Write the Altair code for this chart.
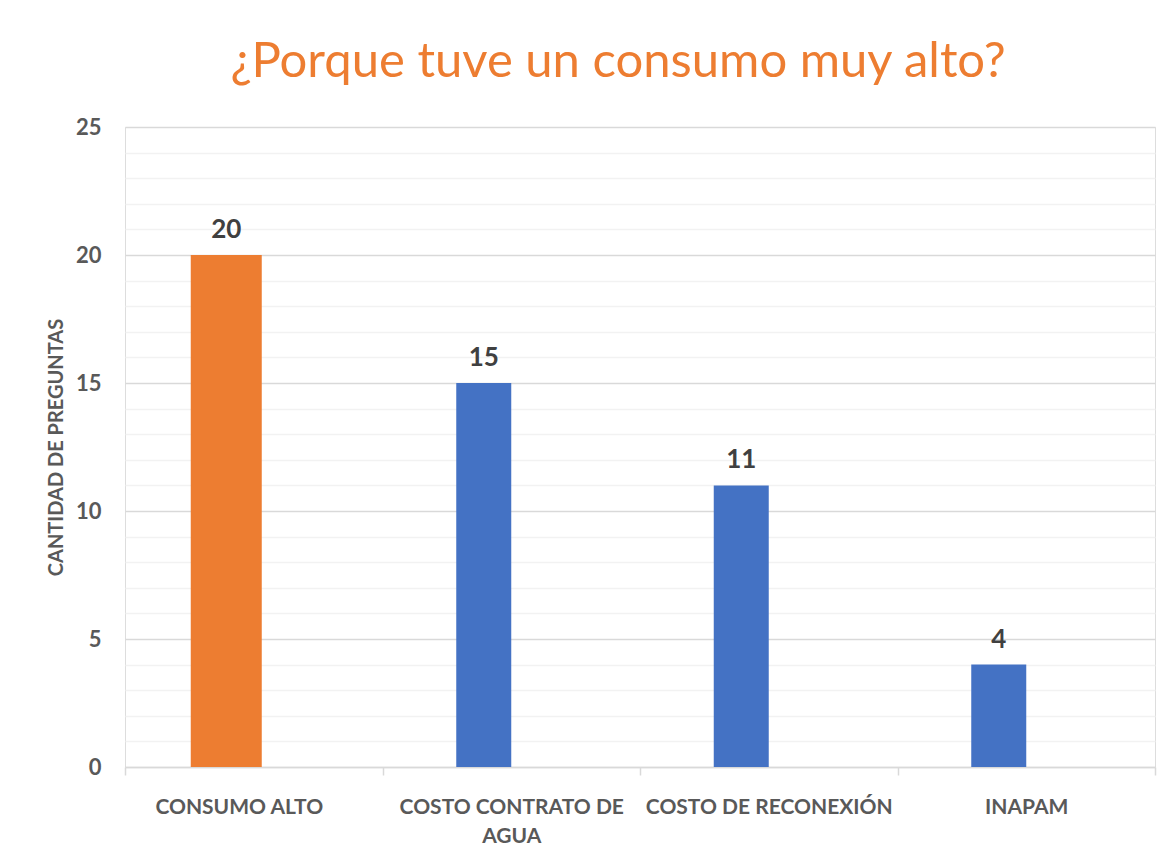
import altair as alt
import pandas as pd

categories = ["CONSUMO ALTO", "COSTO CONTRATO DE AGUA", "COSTO DE RECONEXIÓN", "INAPAM"]
values = [20, 15, 11, 4]
highlight = ["CONSUMO ALTO"]
y_ticks = list(range(0, 26))

df = pd.DataFrame({"categoria": categories, "cantidad": values})

FONT = "Lato"

x = alt.X(
    "categoria:N",
    sort=categories,
    title=None,
    scale=alt.Scale(paddingInner=0, paddingOuter=0),
    axis=alt.Axis(
        labelAngle=0,
        labelFont=FONT,
        labelFontSize=21,
        labelFontWeight="bold",
        labelColor="#595959",
        labelExpr="datum.label == 'COSTO CONTRATO DE AGUA' ? ['COSTO CONTRATO DE', 'AGUA'] : datum.label",
        labelLineHeight=29,
        labelPadding=21,
        labelLimit=400,
        labelOffset={"condition": {"test": "datum.value === 'CONSUMO ALTO'", "value": -15}, "value": 0},
        domainColor="#d9d9d9",
        domainWidth=1.5,
        tickColor="#d9d9d9",
        tickWidth=1.5,
        tickSize=8,
        tickBand="extent",
        grid=False,
    ),
)

y = alt.Y(
    "cantidad:Q",
    scale=alt.Scale(domain=[0, 25], nice=False),
    title="CANTIDAD DE PREGUNTAS",
    axis=alt.Axis(
        values=y_ticks,
        labelExpr="datum.value % 5 === 0 ? datum.label : ''",
        labelFont=FONT,
        labelFontSize=22,
        labelFontWeight="bold",
        labelColor="#595959",
        labelPadding=24,
        ticks=False,
        domain=False,
        gridColor={"condition": {"test": "datum.value % 5 === 0", "value": "#d9d9d9"}, "value": "#f2f2f2"},
        gridWidth=1.5,
        titleFont=FONT,
        titleFontSize=20,
        titleFontWeight="bold",
        titleColor="#595959",
        titlePadding=9,
    ),
)

base = alt.Chart(df).encode(x=x, y=y)

bars = base.mark_bar(size=55, xOffset=-27.5, color="#4472C4")
orange = base.transform_filter(
    alt.FieldOneOfPredicate(field="categoria", oneOf=highlight)
).mark_bar(size=71, xOffset=-27.5, color="#ED7D31")
labels = base.mark_text(
    xOffset=-27.5, dy=-17, baseline="alphabetic", font=FONT, fontSize=26,
    fontWeight="bold", color="#404040"
).encode(text="cantidad:Q")

chart = (
    alt.layer(bars, orange, labels)
    .properties(
        width=1030,
        height=640,
        title=alt.Title(
            "¿Porque tuve un consumo muy alto?",
            font=FONT,
            fontSize=49,
            fontWeight="normal",
            color="#ED7D31",
            anchor="middle",
            dx=-22,
            offset=29,
        ),
        autosize=alt.AutoSizeParams(type="none"),
        padding={"left": 117, "top": 119, "right": 10, "bottom": 80},
    )
    .configure_view(stroke=None)
    .configure(background="white")
)

chart.save("out.html", embed_options={"renderer": "svg", "actions": False})
